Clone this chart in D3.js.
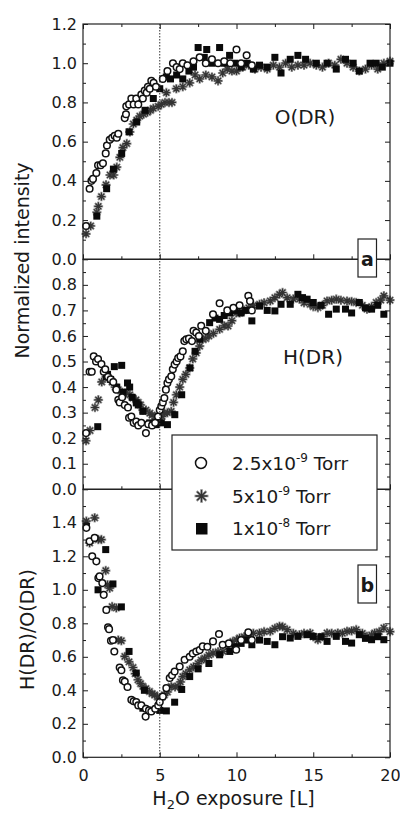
<!DOCTYPE html>
<html><head><meta charset="utf-8">
<script src="https://cdn.jsdelivr.net/npm/d3@7"></script>
<style>html,body{margin:0;padding:0;background:#fff;} svg{display:block;}</style>
</head><body>
<svg id="c" width="400" height="814"></svg>
<script>
// ---------- DATA ----------
const xTicks = [0, 5, 10, 15, 20];
const xMinor = [2.5, 7.5, 12.5, 17.5];
const p1Ticks = [0, 0.2, 0.4, 0.6, 0.8, 1.0, 1.2];
const p1Minor = [0.1, 0.3, 0.5, 0.7, 0.9, 1.1];
const p2Ticks = [0, 0.1, 0.2, 0.3, 0.4, 0.5, 0.6, 0.7, 0.8];
const p2Minor = [0.05, 0.15, 0.25, 0.35, 0.45, 0.55, 0.65, 0.75, 0.85];
const p3Ticks = [0, 0.2, 0.4, 0.6, 0.8, 1.0, 1.2, 1.4];
const p3Minor = [0.1, 0.3, 0.5, 0.7, 0.9, 1.1, 1.3, 1.5];
const legendLabels = [["2.5x10", "-9", " Torr"], ["5x10", "-9", " Torr"], ["1x10", "-8", " Torr"]];

// O(DR) panel
const odrCircles = [[0.2,0.17],[0.43,0.36],[0.55,0.40],[0.65,0.41],[0.87,0.44],[0.98,0.48],[1.15,0.48],[1.3,0.49],[1.48,0.54],[1.56,0.58],[1.74,0.61],[1.9,0.62],[2.06,0.63],[2.2,0.62],[2.3,0.64],[2.72,0.72],[2.8,0.74],[2.82,0.78],[3.0,0.79],[3.15,0.82],[3.3,0.79],[3.47,0.82],[3.6,0.79],[3.8,0.84],[3.9,0.82],[4.02,0.86],[4.15,0.85],[4.23,0.88],[4.35,0.87],[4.45,0.91],[4.6,0.90],[4.75,0.88],[5.2,0.92],[5.5,0.96],[5.86,1.0],[6.1,0.98],[6.3,0.97],[6.5,1.0],[6.8,0.99],[7.2,1.01],[7.6,1.03],[8.0,1.0],[8.4,1.02],[8.8,1.0],[9.2,1.01],[9.6,1.0],[10.0,1.07],[10.3,1.0],[10.66,1.04],[11.0,0.99]];
const odrStars = [[0.2,0.13],[0.5,0.17],[0.9,0.24],[1.0,0.27],[1.2,0.32],[1.5,0.38],[1.76,0.43],[2.0,0.43],[2.2,0.47],[2.4,0.52],[2.6,0.57],[2.85,0.59],[3.05,0.65],[3.28,0.69],[3.5,0.71],[3.7,0.73],[3.95,0.74],[4.2,0.75],[4.4,0.76],[4.58,0.77],[4.9,0.78],[5.1,0.79],[5.34,0.80],[5.6,0.80],[5.8,0.80],[5.43,0.85],[6.08,0.87],[6.5,0.88],[6.95,0.90],[7.3,0.94],[7.6,0.92],[8.0,0.94],[8.4,0.93],[8.8,0.91],[9.1,0.95],[9.4,0.97],[9.7,0.96],[10.0,0.96],[10.4,0.98],[10.8,0.99],[11.2,0.97],[11.6,0.98],[12.0,0.97],[12.4,0.99],[12.8,0.98],[13.2,1.0],[13.6,0.98],[14.0,0.99],[14.4,0.99],[14.8,1.0],[15.2,0.99],[15.6,0.98],[16.0,1.0],[16.4,0.99],[16.8,1.02],[17.2,1.0],[17.6,0.98],[18.0,0.96],[18.4,0.97],[18.8,0.99],[19.2,0.97],[19.6,1.0],[20.0,1.01]];
const odrSquares = [[0.9,0.22],[1.54,0.36],[1.98,0.46],[2.52,0.54],[3.0,0.65],[3.5,0.70],[4.04,0.76],[4.58,0.82],[5.0,0.87],[5.43,0.93],[5.7,0.92],[6.1,0.94],[6.5,0.92],[6.9,0.96],[7.2,0.98],[7.5,1.08],[7.9,1.03],[8.06,1.07],[8.4,1.0],[8.9,1.08],[9.2,1.0],[9.55,1.04],[9.9,1.0],[10.3,0.98],[10.7,1.0],[11.1,0.97],[11.5,0.99],[12.0,0.98],[12.5,1.03],[12.9,0.95],[13.5,1.02],[14.0,1.04],[14.5,1.02],[15.2,1.0],[15.9,1.0],[16.5,0.97],[17.1,1.02],[17.6,1.0],[18.0,0.96],[18.7,1.0],[19.1,1.0],[19.5,0.98],[20.0,1.0]];

// H(DR) panel
const hdrCircles = [[0.2,0.22],[0.43,0.46],[0.57,0.46],[0.7,0.52],[0.85,0.50],[0.98,0.51],[1.2,0.49],[1.35,0.46],[1.45,0.47],[1.63,0.44],[1.8,0.43],[1.97,0.42],[2.17,0.39],[2.3,0.35],[2.39,0.34],[2.55,0.36],[2.72,0.33],[2.93,0.32],[3.0,0.28],[3.15,0.285],[3.3,0.26],[3.47,0.265],[3.6,0.25],[3.8,0.26],[4.1,0.22],[4.25,0.255],[4.5,0.25],[4.7,0.26],[4.89,0.285],[5.0,0.31],[5.1,0.325],[5.2,0.34],[5.3,0.357],[5.4,0.39],[5.5,0.416],[5.6,0.43],[5.75,0.442],[5.85,0.47],[5.97,0.488],[6.1,0.50],[6.2,0.514],[6.35,0.52],[6.5,0.54],[6.6,0.58],[6.73,0.587],[6.9,0.59],[7.1,0.58],[7.2,0.62],[7.38,0.613],[7.55,0.60],[7.7,0.64],[8.0,0.62],[8.47,0.685],[8.9,0.728],[9.4,0.70],[9.8,0.71],[10.2,0.72],[10.77,0.757],[10.88,0.737],[11.0,0.70]];
const hdrStars = [[0.2,0.19],[0.46,0.23],[0.78,0.32],[1.0,0.35],[1.22,0.42],[1.5,0.44],[1.9,0.42],[2.1,0.40],[2.3,0.39],[2.55,0.38],[2.82,0.377],[3.05,0.37],[3.26,0.357],[3.45,0.35],[3.6,0.34],[3.75,0.33],[3.9,0.31],[4.1,0.31],[4.35,0.298],[4.5,0.29],[4.7,0.285],[4.85,0.28],[5.0,0.279],[5.15,0.285],[5.3,0.298],[5.5,0.30],[5.75,0.305],[5.9,0.34],[6.08,0.37],[6.3,0.40],[6.5,0.43],[6.7,0.45],[6.95,0.475],[7.15,0.51],[7.38,0.534],[7.6,0.56],[7.8,0.587],[8.0,0.59],[8.2,0.60],[8.5,0.61],[8.9,0.626],[9.2,0.64],[9.45,0.639],[9.7,0.66],[9.98,0.69],[10.2,0.69],[10.5,0.70],[10.8,0.71],[11.1,0.72],[11.5,0.724],[11.8,0.73],[12.2,0.737],[12.5,0.75],[12.8,0.763],[13.0,0.77],[13.3,0.75],[13.7,0.745],[14.1,0.744],[14.4,0.73],[14.8,0.724],[15.0,0.715],[15.3,0.711],[15.6,0.72],[15.9,0.737],[16.2,0.74],[16.5,0.744],[16.8,0.74],[17.2,0.737],[17.5,0.735],[17.8,0.731],[18.2,0.72],[18.5,0.705],[18.8,0.715],[19.1,0.731],[19.4,0.74],[19.6,0.757],[20.0,0.74]];
const hdrSquares = [[0.96,0.245],[1.52,0.44],[1.6,0.45],[1.8,0.43],[2.04,0.48],[2.2,0.40],[2.52,0.485],[2.6,0.38],[2.9,0.416],[3.04,0.40],[3.2,0.36],[3.47,0.338],[3.6,0.33],[3.9,0.305],[4.35,0.26],[4.77,0.253],[5.1,0.26],[5.5,0.253],[5.98,0.292],[6.43,0.37],[6.97,0.475],[7.3,0.54],[7.6,0.587],[8.25,0.652],[8.6,0.67],[8.9,0.665],[9.2,0.68],[9.56,0.69],[9.9,0.70],[10.3,0.69],[10.6,0.70],[11.0,0.659],[11.5,0.717],[12.0,0.70],[12.5,0.698],[12.9,0.724],[13.5,0.724],[14.0,0.763],[14.3,0.75],[14.6,0.744],[15.0,0.731],[15.5,0.72],[16.0,0.685],[16.5,0.705],[17.1,0.705],[17.5,0.69],[18.0,0.731],[18.4,0.71],[18.8,0.705],[19.2,0.72],[19.6,0.685]];

// H(DR)/O(DR) panel
const ratioCircles = [[0.22,1.37],[0.43,1.29],[0.6,1.2],[0.76,1.31],[0.87,1.17],[1.0,1.07],[1.08,1.08],[1.26,1.04],[1.35,0.97],[1.52,0.88],[1.63,0.776],[1.7,0.765],[1.82,0.696],[1.95,0.70],[2.04,0.632],[2.39,0.536],[2.5,0.52],[2.6,0.46],[2.72,0.452],[2.9,0.42],[3.15,0.343],[3.3,0.335],[3.47,0.33],[3.6,0.31],[3.8,0.31],[4.08,0.243],[4.1,0.29],[4.3,0.28],[4.45,0.273],[4.7,0.29],[4.9,0.31],[5.0,0.33],[5.2,0.363],[5.43,0.413],[5.65,0.473],[5.8,0.49],[5.97,0.512],[6.3,0.542],[6.62,0.582],[6.95,0.60],[7.15,0.62],[7.38,0.632],[7.6,0.64],[7.8,0.662],[8.1,0.66],[8.47,0.692],[8.86,0.736],[9.1,0.672],[9.5,0.68],[9.98,0.642],[10.3,0.70],[10.77,0.746],[11.0,0.70]];
const ratioStars = [[0.22,1.41],[0.43,1.28],[0.76,1.43],[1.0,1.30],[1.2,1.30],[1.48,1.115],[1.6,1.03],[1.74,1.01],[1.9,0.90],[2.17,0.892],[2.3,0.70],[2.5,0.696],[2.72,0.602],[3.0,0.57],[3.26,0.536],[3.4,0.50],[3.58,0.463],[3.75,0.44],[3.9,0.423],[4.1,0.41],[4.33,0.393],[4.5,0.38],[4.67,0.373],[4.85,0.36],[5.0,0.353],[5.15,0.36],[5.3,0.373],[5.5,0.39],[5.75,0.423],[6.0,0.42],[6.2,0.423],[6.35,0.45],[6.5,0.482],[6.7,0.50],[6.95,0.522],[7.2,0.54],[7.5,0.56],[7.7,0.58],[7.92,0.592],[8.2,0.61],[8.47,0.622],[8.8,0.63],[9.12,0.632],[9.45,0.66],[9.76,0.692],[10.0,0.70],[10.2,0.712],[10.5,0.72],[10.8,0.73],[11.1,0.74],[11.5,0.742],[11.8,0.75],[12.2,0.752],[12.5,0.77],[12.8,0.782],[13.0,0.78],[13.3,0.762],[13.7,0.74],[14.1,0.732],[14.4,0.74],[14.8,0.742],[15.0,0.72],[15.3,0.702],[15.6,0.72],[15.9,0.742],[16.2,0.74],[16.6,0.742],[16.9,0.74],[17.2,0.752],[17.5,0.755],[17.8,0.762],[18.2,0.74],[18.5,0.722],[18.8,0.73],[19.0,0.742],[19.3,0.75],[19.6,0.772],[20.0,0.75]];
const ratioSquares = [[0.22,1.38],[0.98,1.0],[1.48,1.24],[1.95,1.035],[2.5,0.898],[3.0,0.632],[3.47,0.503],[4.0,0.40],[3.9,0.293],[4.45,0.28],[5.0,0.28],[5.43,0.277],[5.97,0.329],[6.43,0.405],[6.95,0.482],[7.5,0.528],[8.2,0.56],[8.9,0.612],[9.56,0.632],[9.9,0.66],[10.3,0.68],[10.6,0.70],[11.0,0.672],[11.5,0.70],[12.0,0.692],[12.5,0.672],[13.0,0.72],[13.5,0.712],[14.0,0.722],[14.6,0.732],[15.0,0.722],[15.5,0.72],[15.9,0.692],[16.5,0.722],[17.1,0.692],[17.5,0.682],[18.0,0.732],[18.4,0.71],[18.8,0.702],[19.2,0.72],[19.6,0.702]];

// ---------- DRAWING ----------
const FONT = "'DejaVu Sans', 'Liberation Sans', Arial, sans-serif";
const INK = "#1a1a1a";
const svg = d3.select("#c");
const x = d3.scaleLinear().domain([0, 20]).range([83, 390]);

const panels = [
  { y: d3.scaleLinear().domain([0, 1.2]).range([259.3, 24]), major: p1Ticks, minor: p1Minor,
    stars: odrStars, squares: odrSquares, circles: odrCircles, top: true, bottomLabels: false },
  { y: d3.scaleLinear().domain([0, 0.9]).range([489.3, 259.3]), major: p2Ticks, minor: p2Minor,
    stars: hdrStars, squares: hdrSquares, circles: hdrCircles, top: false, bottomLabels: false },
  { y: d3.scaleLinear().domain([0, 1.6]).range([757.3, 489.3]), major: p3Ticks, minor: p3Minor,
    stars: ratioStars, squares: ratioSquares, circles: ratioCircles, top: false, bottomLabels: true }
];

function starPath(r) {
  let d = "";
  for (let i = 0; i < 4; i++) {
    const a = i * Math.PI / 4;
    const dx = r * Math.cos(a), dy = r * Math.sin(a);
    d += `M${-dx},${-dy}L${dx},${dy}`;
  }
  return d;
}

function styleAxis(g, size) {
  g.select(".domain").remove();
  g.selectAll("line").attr("stroke", INK).attr("stroke-width", 1);
  g.selectAll("text").attr("font-family", FONT).attr("font-size", size).attr("fill", INK);
}

const fmt = d3.format(".1f");

panels.forEach((p) => {
  const [yb, yt] = p.y.range();
  const g = svg.append("g");

  // markers
  const sg = g.append("g");
  sg.selectAll("path.halo").data(p.stars).join("path").attr("class", "halo")
    .attr("transform", d => `translate(${x(d[0])},${p.y(d[1])})`)
    .attr("d", starPath(4.8))
    .attr("stroke", "#9a9a9a").attr("stroke-width", 2.2).attr("fill", "none");
  sg.selectAll("path.core").data(p.stars).join("path").attr("class", "core")
    .attr("transform", d => `translate(${x(d[0])},${p.y(d[1])})`)
    .attr("d", starPath(4.0))
    .attr("stroke", "#333").attr("stroke-width", 1.2).attr("fill", "none");
  g.append("g").selectAll("rect").data(p.squares).join("rect")
    .attr("x", d => x(d[0]) - 3.5).attr("y", d => p.y(d[1]) - 3.5)
    .attr("width", 7).attr("height", 7).attr("fill", "#0a0a0a");
  g.append("g").selectAll("circle").data(p.circles).join("circle")
    .attr("cx", d => x(d[0])).attr("cy", d => p.y(d[1])).attr("r", 3.3)
    .attr("fill", "#fff").attr("stroke", "#111").attr("stroke-width", 1.5);

  // axes
  styleAxis(g.append("g").attr("transform", "translate(83,0)")
    .call(d3.axisLeft(p.y).tickValues(p.major).tickSize(-5).tickPadding(6).tickFormat(fmt)), 16);
  styleAxis(g.append("g").attr("transform", "translate(83,0)")
    .call(d3.axisLeft(p.y).tickValues(p.minor).tickSize(-3).tickFormat("")), 16);
  styleAxis(g.append("g").attr("transform", "translate(390,0)")
    .call(d3.axisRight(p.y).tickValues(p.major).tickSize(-5).tickFormat("")), 16);
  styleAxis(g.append("g").attr("transform", "translate(390,0)")
    .call(d3.axisRight(p.y).tickValues(p.minor).tickSize(-3).tickFormat("")), 16);
  styleAxis(g.append("g").attr("transform", `translate(0,${yb})`)
    .call(d3.axisBottom(x).tickValues(xTicks).tickSize(-5).tickPadding(12)
      .tickFormat(p.bottomLabels ? d3.format("d") : "")), 16);
  styleAxis(g.append("g").attr("transform", `translate(0,${yb})`)
    .call(d3.axisBottom(x).tickValues(xMinor).tickSize(-3).tickFormat("")), 16);
  if (p.top) {
    styleAxis(g.append("g").attr("transform", `translate(0,${yt})`)
      .call(d3.axisTop(x).tickValues(xTicks).tickSize(-5).tickFormat("")), 16);
    styleAxis(g.append("g").attr("transform", `translate(0,${yt})`)
      .call(d3.axisTop(x).tickValues(xMinor).tickSize(-3).tickFormat("")), 16);
  }
  // frame
  g.append("rect").attr("x", x(0)).attr("y", yt).attr("width", x(20) - x(0)).attr("height", yb - yt)
    .attr("fill", "none").attr("stroke", "#222").attr("stroke-width", 1.2);
});

// dotted reference line at 5 L
svg.append("line").attr("x1", x(5)).attr("x2", x(5))
  .attr("y1", panels[0].y.range()[1]).attr("y2", panels[2].y.range()[0])
  .attr("stroke", "#333").attr("stroke-width", 1).attr("stroke-dasharray", "1.5,1.5");

// panel labels
svg.append("text").attr("x", 305).attr("y", 124).attr("text-anchor", "middle")
  .attr("font-family", FONT).attr("font-size", 20).attr("fill", INK).text("O(DR)");
svg.append("text").attr("x", 313).attr("y", 364).attr("text-anchor", "middle")
  .attr("font-family", FONT).attr("font-size", 20).attr("fill", INK).text("H(DR)");

// boxed letters a, b
[["a", 239, 266], ["b", 565, 592]].forEach(([t, top, base]) => {
  svg.append("rect").attr("x", 358).attr("y", top).attr("width", 18.5).attr("height", 38)
    .attr("fill", "#fff").attr("stroke", "#222").attr("stroke-width", 1.2);
  svg.append("text").attr("x", 367.3).attr("y", base).attr("text-anchor", "middle")
    .attr("font-family", FONT).attr("font-weight", "bold").attr("font-size", 19).attr("fill", INK).text(t);
});

// legend
const lg = svg.append("g");
lg.append("rect").attr("x", 172).attr("y", 435).attr("width", 205).attr("height", 115)
  .attr("fill", "#fff").attr("stroke", "#222").attr("stroke-width", 1.2);
const legY = [463, 496, 528.5];
lg.append("circle").attr("cx", 201).attr("cy", legY[0]).attr("r", 5.5)
  .attr("fill", "#fff").attr("stroke", "#111").attr("stroke-width", 1.5);
lg.append("path").attr("transform", `translate(201.5,${legY[1]})`).attr("d", starPath(7))
  .attr("stroke", "#9a9a9a").attr("stroke-width", 2.4).attr("fill", "none");
lg.append("path").attr("transform", `translate(201.5,${legY[1]})`).attr("d", starPath(6))
  .attr("stroke", "#333").attr("stroke-width", 1.4).attr("fill", "none");
lg.append("rect").attr("x", 196).attr("y", legY[2] - 5.5).attr("width", 11.5).attr("height", 11.5).attr("fill", "#0a0a0a");
legendLabels.forEach((l, i) => {
  const t = lg.append("text").attr("x", 232).attr("y", legY[i] + 6.5)
    .attr("font-family", FONT).attr("font-size", 18.5).attr("fill", INK);
  t.append("tspan").text(l[0]);
  t.append("tspan").attr("dy", -8).attr("font-size", 12).text(l[1]);
  t.append("tspan").attr("dy", 8).text(l[2]);
});

// axis titles
svg.append("text").attr("transform", "translate(28.5,260.5) rotate(-90)").attr("text-anchor", "middle")
  .attr("font-family", FONT).attr("font-size", 19).attr("fill", INK).text("Normalized intensity");
svg.append("text").attr("transform", "translate(33.5,629.5) rotate(-90)").attr("text-anchor", "middle")
  .attr("font-family", FONT).attr("font-size", 19).attr("fill", INK).text("H(DR)/O(DR)");
const xt = svg.append("text").attr("x", 233.5).attr("y", 805).attr("text-anchor", "middle")
  .attr("font-family", FONT).attr("font-size", 19).attr("fill", INK);
xt.append("tspan").text("H");
xt.append("tspan").attr("dy", 4).attr("font-size", 13).text("2");
xt.append("tspan").attr("dy", -4).text("O exposure [L]");
</script>
</body></html>
